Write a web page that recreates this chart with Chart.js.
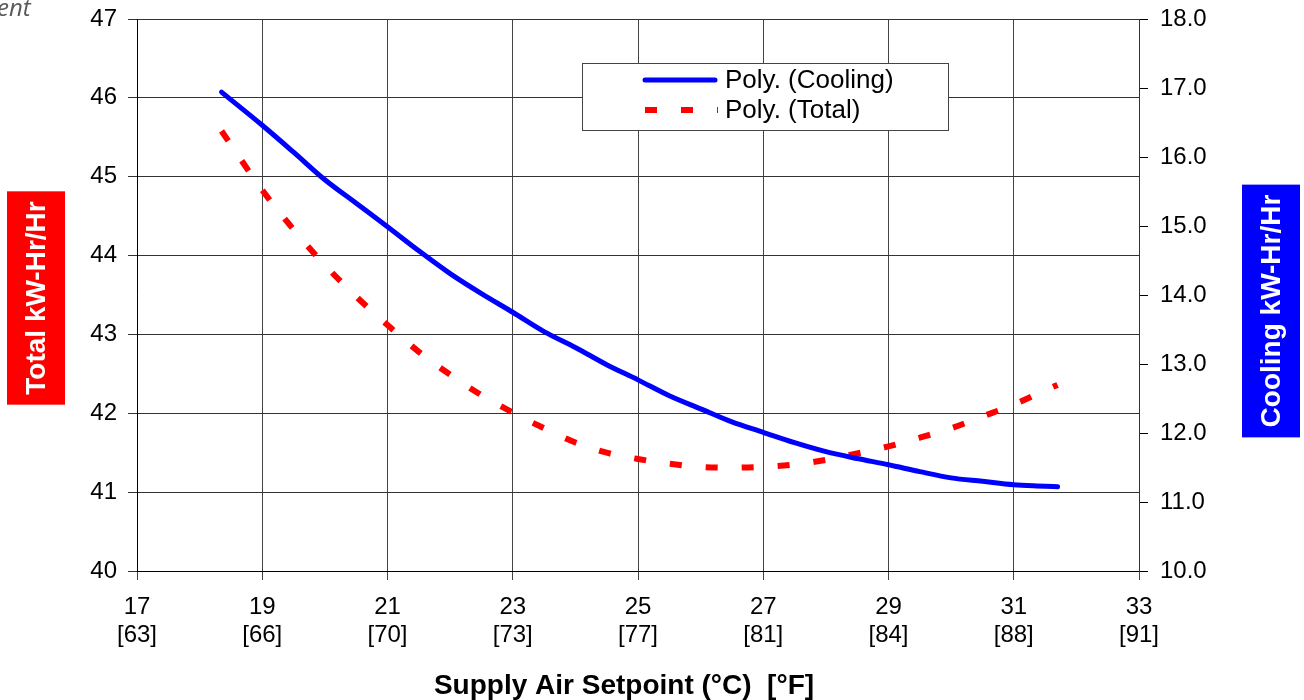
<!DOCTYPE html>
<html>
<head>
<meta charset="utf-8">
<script src="https://cdn.jsdelivr.net/npm/chart.js@4.4.1/dist/chart.umd.min.js"></script>
<style>
html, body { margin: 0; padding: 0; background: #fff; }
#wrap { width: 1304px; height: 700px; }
</style>
</head>
<body>
<div id="wrap"><canvas id="chart" width="1304" height="700"></canvas></div>
<script>
// supply air setpoint in deg C
var setpointC = [18.35, 19, 19.5, 20, 20.5, 21, 21.5, 22, 22.5, 23, 23.5, 24, 24.5, 25, 25.5,
    26, 26.5, 27, 27.5, 28, 28.5, 29, 29.5, 30, 30.5, 31, 31.5, 31.7]

// right axis
var coolingKw = [16.94, 16.46, 16.07, 15.67, 15.33, 14.99, 14.64, 14.31, 14.02, 13.75, 13.47, 13.24,
    12.99, 12.77, 12.54, 12.35, 12.16, 12.01, 11.86, 11.73, 11.63, 11.54, 11.44, 11.35, 11.30, 11.25, 11.23, 11.22]

// left axis
var totalKw = [45.58, 44.83, 44.33, 43.88, 43.48, 43.12, 42.78, 42.49, 42.23, 42.01, 41.81, 41.63,
    41.50, 41.42, 41.36, 41.32, 41.31, 41.32, 41.35, 41.41, 41.49, 41.58, 41.69, 41.81, 41.96, 42.11, 42.29, 42.36]

var xTicksC = [17, 19, 21, 23, 25, 27, 29, 31, 33]
var xTicksF = ['63', '66', '70', '73', '77', '81', '84', '88', '91']

var FONT = '"Liberation Sans", Arial, sans-serif'

function toPoints(ys) {
    return setpointC.map(function (x, i) { return { x: x, y: ys[i] }; });
}

function sideTitle(ctx, text, cx, cy, bg) {
    ctx.save();
    ctx.font = 'bold 28px ' + FONT;
    var w = ctx.measureText(text).width;
    var boxH = w + 20, boxW = 58;
    ctx.fillStyle = bg;
    ctx.fillRect(cx - boxW / 2, cy - boxH / 2, boxW, boxH);
    ctx.translate(cx, cy);
    ctx.rotate(-Math.PI / 2);
    ctx.fillStyle = '#fff';
    ctx.textAlign = 'center';
    ctx.textBaseline = 'middle';
    ctx.fillText(text, 0, 1);
    ctx.restore();
}

var extras = {
    id: 'extras',
    afterDraw: function (chart) {
        var ctx = chart.ctx, a = chart.chartArea;
        var mid = (a.top + a.bottom) / 2;

        sideTitle(ctx, 'Total kW-Hr/Hr', 36, mid + 3, '#ff0000');
        sideTitle(ctx, 'Cooling kW-Hr/Hr', chart.width - 33, mid + 16, '#0000ff');

        // x axis title
        ctx.save();
        ctx.font = 'bold 28px ' + FONT;
        ctx.fillStyle = '#000';
        ctx.textAlign = 'center';
        ctx.textBaseline = 'middle';
        ctx.fillText('Supply Air Setpoint (\u00b0C)  [\u00b0F]', (a.left + a.right) / 2 - 14, chart.height - 14);
        ctx.restore();

        // cut-off caption in the corner
        ctx.save();
        ctx.font = 'italic 24px "Open Sans", sans-serif';
        ctx.fillStyle = '#595959';
        ctx.textBaseline = 'alphabetic';
        ctx.fillText('ent', -3, 16);
        ctx.restore();

        // legend inside the plot
        var bx = a.left + 445, by = a.top + 44, bw = 366, bh = 67;
        ctx.save();
        ctx.fillStyle = '#fff';
        ctx.fillRect(bx, by, bw, bh);
        ctx.strokeStyle = '#444';
        ctx.lineWidth = 1;
        ctx.strokeRect(bx + 0.5, by + 0.5, bw, bh);
        ctx.font = '26px ' + FONT;
        ctx.textBaseline = 'middle';
        chart.data.datasets.forEach(function (ds, i) {
            var ly = by + 17 + i * 30;
            ctx.beginPath();
            ctx.strokeStyle = ds.borderColor;
            ctx.lineWidth = ds.borderWidth;
            ctx.lineCap = ds.borderDash.length ? 'butt' : 'round';
            ctx.setLineDash(ds.borderDash);
            ctx.moveTo(bx + 63, ly);
            ctx.lineTo(bx + (ds.borderDash.length ? 136 : 133), ly);
            ctx.stroke();
            ctx.setLineDash([]);
            ctx.fillStyle = '#000';
            ctx.fillText(ds.label, bx + 143, ly + 1);
        });
        ctx.restore();
    }
};

function fitY(width) {
    return function (axis) {
        axis.width = width;
        axis.paddingTop = 0;
        axis.paddingBottom = 0;
    };
}

var chart = new Chart(
    document.getElementById('chart'),
    {
        type: 'line',
        data: {
            datasets: [
                {
                    label: 'Poly. (Cooling)',
                    data: toPoints(coolingKw),
                    yAxisID: 'y2',
                    borderColor: '#0000ff',
                    borderWidth: 5,
                    borderDash: [],
                    borderCapStyle: 'round',
                    pointRadius: 0,
                    cubicInterpolationMode: 'monotone',
                },
                {
                    label: 'Poly. (Total)',
                    data: toPoints(totalKw),
                    yAxisID: 'y',
                    borderColor: '#ff0000',
                    borderWidth: 6,
                    borderDash: [12, 24],
                    pointRadius: 0,
                    cubicInterpolationMode: 'monotone',
                },
            ]
        },
        options: {
            responsive: false,
            animation: false,
            layout: { padding: { top: 19, left: 0, right: 0, bottom: 0 } },
            plugins: { legend: { display: false }, tooltip: { enabled: false } },
            scales: {
                x: {
                    type: 'linear',
                    min: 17,
                    max: 33,
                    afterBuildTicks: function (axis) {
                        axis.ticks = xTicksC.map(function (v) { return { value: v }; });
                    },
                    afterFit: function (axis) {
                        axis.height = 129;
                        axis.paddingLeft = 0;
                        axis.paddingRight = 0;
                        axis.paddingTop = 0;
                    },
                    ticks: {
                        color: '#000',
                        padding: 14,
                        maxRotation: 0,
                        font: { family: FONT, size: 24, lineHeight: 1.15 },
                        callback: function (value, index) {
                            return [String(value), '[' + xTicksF[index] + ']'];
                        }
                    },
                    grid: { color: '#444', lineWidth: 1, tickLength: 9 },
                    border: { color: '#000' }
                },
                y: {
                    position: 'left',
                    min: 40,
                    max: 47,
                    afterFit: fitY(137),
                    ticks: {
                        stepSize: 1,
                        color: '#000',
                        padding: 11,
                        font: { family: FONT, size: 24 }
                    },
                    grid: { color: '#333', lineWidth: 1, tickLength: 9 },
                    border: { color: '#000' }
                },
                y2: {
                    position: 'right',
                    min: 10,
                    max: 18,
                    afterFit: fitY(165),
                    ticks: {
                        stepSize: 1,
                        color: '#000',
                        padding: 12,
                        font: { family: FONT, size: 24 },
                        callback: function (value) { return value.toFixed(1); }
                    },
                    grid: { drawOnChartArea: false, color: '#000', tickLength: 9 },
                    border: { color: '#333' }
                }
            }
        },
        plugins: [extras]
    }
);
</script>
</body>
</html>
